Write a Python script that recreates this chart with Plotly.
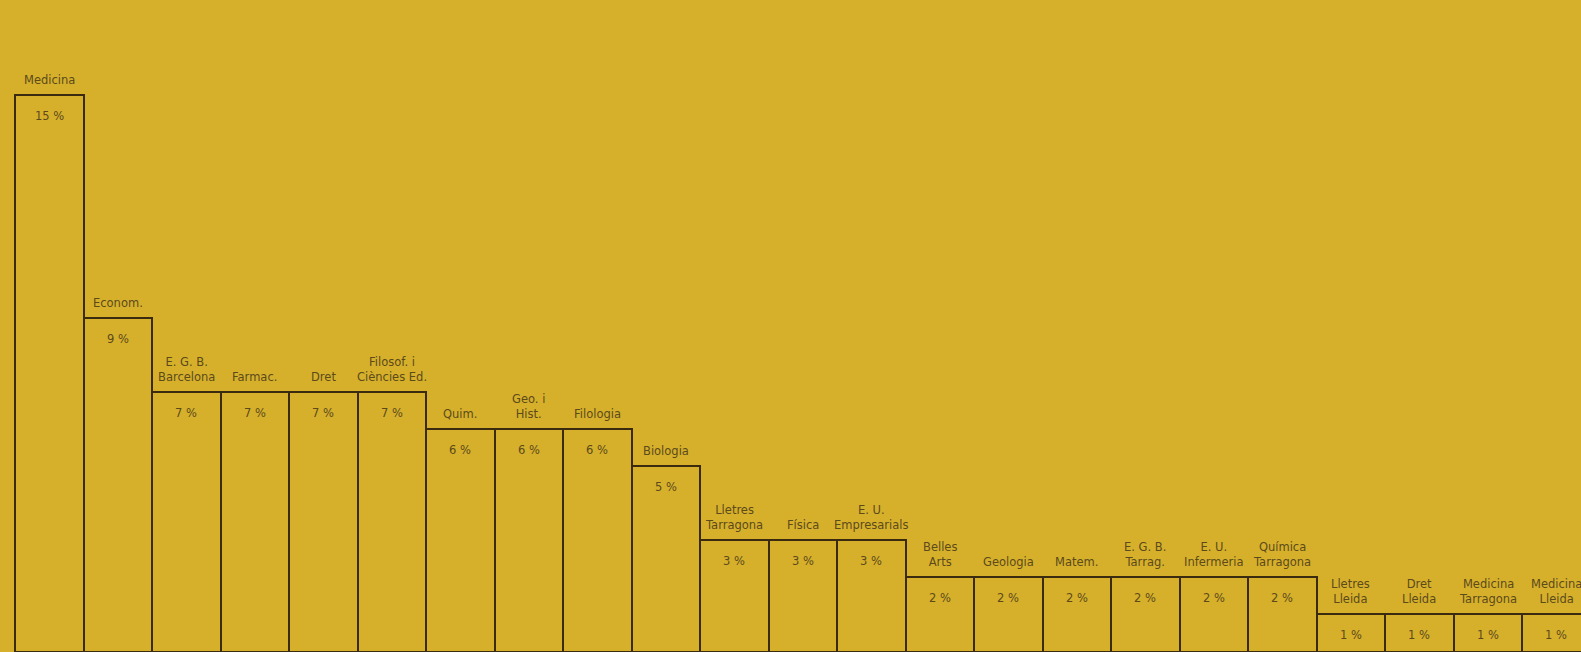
import plotly.graph_objects as go

# Data
categories = [
    "Medicina", "Econom.", "E. G. B. Barcelona", "Farmac.", "Dret",
    "Filosof. i Ciències Ed.", "Quim.", "Geo. i Hist.", "Filologia", "Biologia",
    "Lletres Tarragona", "Física", "E. U. Empresarials", "Belles Arts", "Geologia",
    "Matem.", "E. G. B. Tarrag.", "E. U. Infermeria", "Química Tarragona",
    "Lletres Lleida", "Dret Lleida", "Medicina Tarragona", "Medicina Lleida",
]
labels = [
    "Medicina", "Econom.", "E. G. B.<br>Barcelona", "Farmac.", "Dret",
    "Filosof. i<br>Ciències Ed.", "Quim.", "Geo. i<br>Hist.", "Filologia", "Biologia",
    "Lletres<br>Tarragona", "Física", "E. U.<br>Empresarials", "Belles<br>Arts", "Geologia",
    "Matem.", "E. G. B.<br>Tarrag.", "E. U.<br>Infermeria", "Química<br>Tarragona",
    "Lletres<br>Lleida", "Dret<br>Lleida", "Medicina<br>Tarragona", "Medicina<br>Lleida",
]
values = [15, 9, 7, 7, 7, 7, 6, 6, 6, 5, 3, 3, 3, 2, 2, 2, 2, 2, 2, 1, 1, 1, 1]

BG = "rgb(214,176,43)"
LINE = "rgb(58,42,14)"
TEXT = "rgb(92,74,28)"
FONT = dict(family="DejaVu Sans", size=11.5, color=TEXT)

fig = go.Figure()
fig.add_trace(go.Bar(
    x=categories, y=values,
    marker=dict(color=BG, line=dict(color=LINE, width=2)),
    hoverinfo="skip",
))

annotations = []
for cat, lab, v in zip(categories, labels, values):
    annotations.append(dict(x=cat, y=v, text=lab, showarrow=False,
                            xanchor="center", yanchor="bottom", yshift=6, font=FONT))
    annotations.append(dict(x=cat, y=v, text=f"{v} %", showarrow=False,
                            xanchor="center", yanchor="middle", yshift=-21, font=FONT))

fig.update_layout(
    width=1581, height=652,
    margin=dict(l=0, r=0, t=0, b=0),
    paper_bgcolor=BG, plot_bgcolor=BG,
    bargap=0, showlegend=False,
    xaxis=dict(range=[-0.719, 22.36], visible=False, showgrid=False, zeroline=False),
    yaxis=dict(range=[-0.013, 17.56], visible=False, showgrid=False, zeroline=False),
    annotations=annotations,
)

fig.write_html(
    "out.html",
    config={"displayModeBar": False},
    post_script="document.body.style.margin='0';document.body.style.background='" + BG + "';",
)
